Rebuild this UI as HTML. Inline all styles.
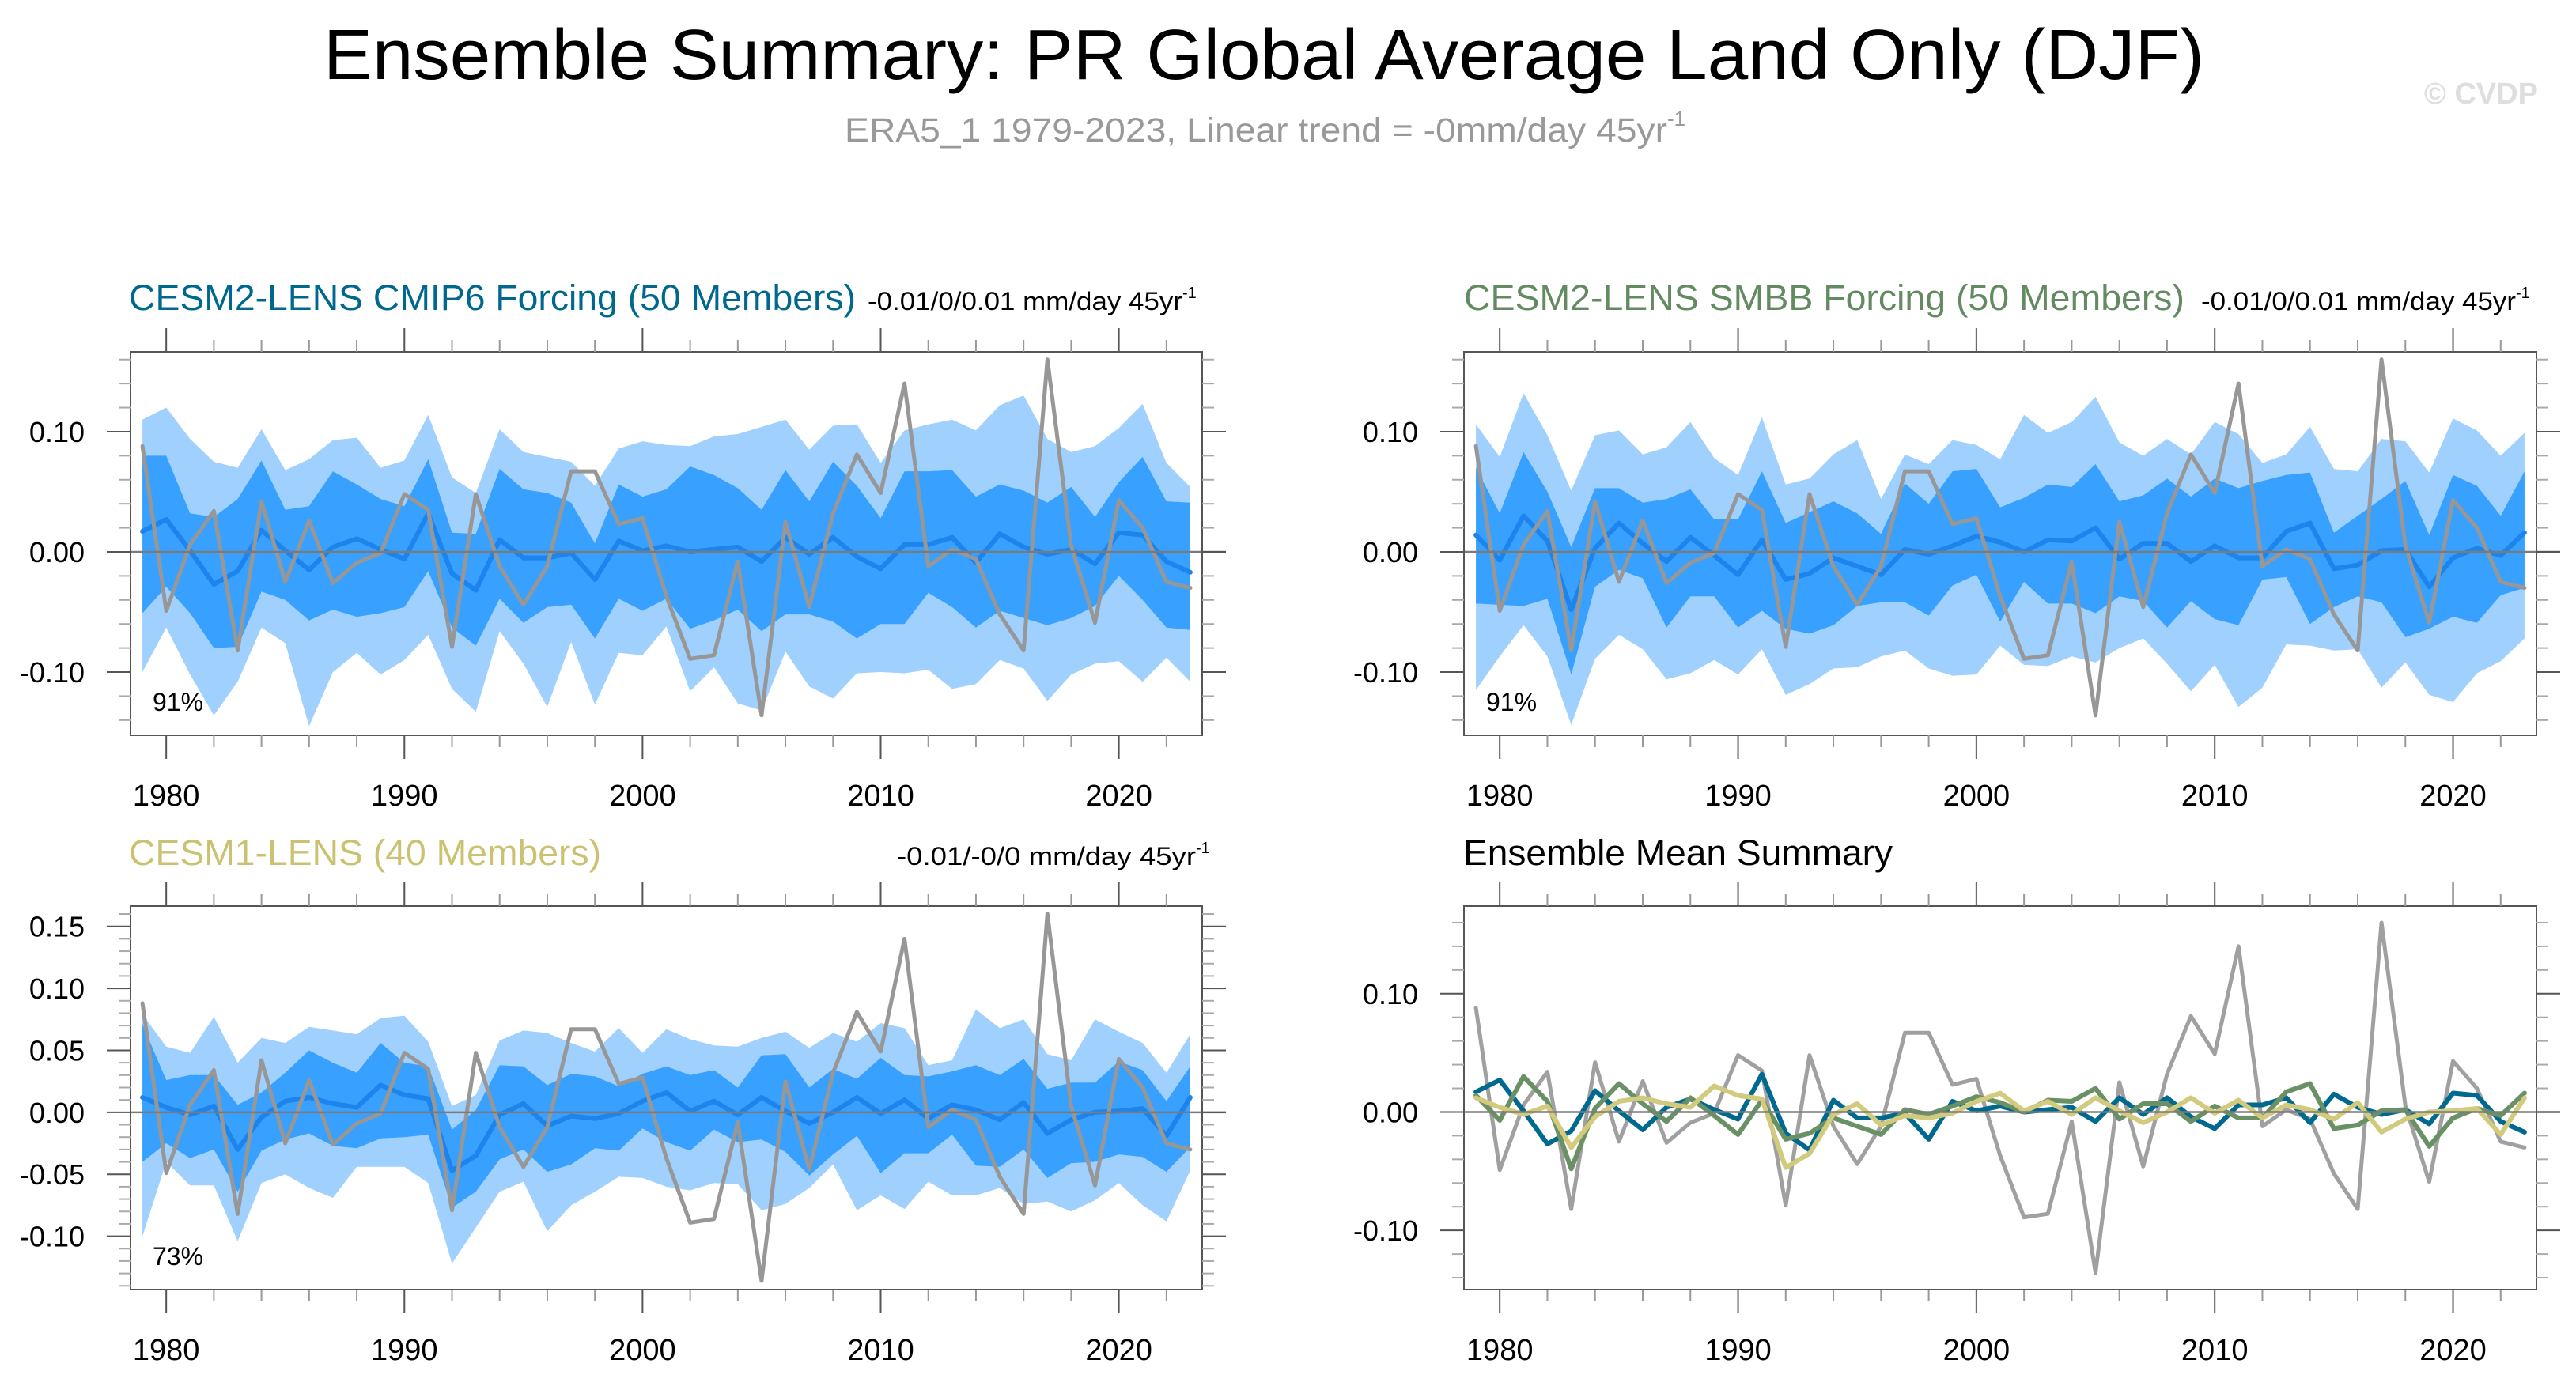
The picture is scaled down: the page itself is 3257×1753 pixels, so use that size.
<!DOCTYPE html>
<html><head><meta charset="utf-8">
<style>
html,body{margin:0;padding:0;background:#fff;}
svg{display:block;font-family:"Liberation Sans",Arial,sans-serif;}
</style></head>
<body>
<svg id="chart" width="3257" height="1753" viewBox="0 0 3257 1753" xmlns="http://www.w3.org/2000/svg">
<text x="1598" y="100" font-size="90" text-anchor="middle" textLength="2378" lengthAdjust="spacingAndGlyphs" fill="#000">Ensemble Summary: PR Global Average Land Only (DJF)</text>
<text x="1068" y="179" font-size="43" fill="#999"><tspan textLength="1040" lengthAdjust="spacingAndGlyphs">ERA5_1 1979-2023, Linear trend = -0mm/day 45yr</tspan><tspan font-size="26" dy="-20">-1</tspan></text>
<text x="3209" y="131" font-size="38" font-weight="bold" text-anchor="end" fill="#dedede">© CVDP</text>

<text x="163" y="392" font-size="45" fill="#00688f" textLength="919" lengthAdjust="spacingAndGlyphs">CESM2-LENS CMIP6 Forcing (50 Members)</text>
<text x="1097" y="392" font-size="32" fill="#000"><tspan textLength="398" lengthAdjust="spacingAndGlyphs">-0.01/0/0.01 mm/day 45yr</tspan><tspan font-size="20" dy="-15">-1</tspan></text>

<text x="1851" y="392" font-size="45" fill="#638a60" textLength="911" lengthAdjust="spacingAndGlyphs">CESM2-LENS SMBB Forcing (50 Members)</text>
<text x="2783" y="392" font-size="32" fill="#000"><tspan textLength="398" lengthAdjust="spacingAndGlyphs">-0.01/0/0.01 mm/day 45yr</tspan><tspan font-size="20" dy="-15">-1</tspan></text>

<text x="163" y="1094" font-size="45" fill="#cbc271" textLength="597" lengthAdjust="spacingAndGlyphs">CESM1-LENS (40 Members)</text>
<text x="1134" y="1094" font-size="32" fill="#000"><tspan textLength="378" lengthAdjust="spacingAndGlyphs">-0.01/-0/0 mm/day 45yr</tspan><tspan font-size="20" dy="-15">-1</tspan></text>

<text x="1850" y="1094" font-size="45" fill="#000" textLength="543" lengthAdjust="spacingAndGlyphs">Ensemble Mean Summary</text>
</svg>
<script>
const years = [];
for (let y = 1979; y <= 2023; y++) years.push(y);

const era5 = [0.088,-0.049,0.006,0.034,-0.082,0.042,-0.025,0.026,-0.026,-0.009,-0.001,0.048,0.035,-0.079,0.048,-0.012,-0.044,-0.012,0.067,0.067,0.023,0.028,-0.037,-0.089,-0.086,-0.008,-0.136,0.025,-0.046,0.032,0.081,0.049,0.140,-0.012,0.002,-0.006,-0.052,-0.082,0.160,0.005,-0.059,0.043,0.020,-0.025,-0.030];

const cmip6Mean = [0.017,0.027,0.001,-0.027,-0.016,0.018,0.001,-0.015,0.004,0.011,0.002,-0.006,0.032,-0.018,-0.032,0.010,-0.005,-0.005,-0.001,-0.023,0.009,0.001,0.005,0.000,0.002,0.004,-0.008,0.012,-0.002,0.012,-0.004,-0.014,0.006,0.006,0.012,-0.009,0.015,0.004,-0.002,0.002,-0.010,0.016,0.014,-0.008,-0.017];
const cmip6OuterHi = [0.110,0.120,0.094,0.075,0.070,0.102,0.068,0.077,0.093,0.095,0.070,0.076,0.114,0.062,0.049,0.102,0.083,0.079,0.075,0.055,0.086,0.092,0.089,0.088,0.096,0.098,0.104,0.110,0.085,0.105,0.106,0.074,0.101,0.106,0.110,0.101,0.122,0.130,0.094,0.083,0.088,0.103,0.123,0.074,0.054];
const cmip6InnerHi = [0.080,0.080,0.032,0.029,0.044,0.076,0.035,0.038,0.067,0.056,0.044,0.038,0.077,0.016,0.015,0.069,0.052,0.049,0.041,0.007,0.056,0.046,0.052,0.071,0.064,0.053,0.035,0.068,0.042,0.075,0.055,0.028,0.067,0.067,0.068,0.046,0.056,0.051,0.041,0.054,0.029,0.058,0.079,0.042,0.041];
const cmip6InnerLo = [-0.051,-0.029,-0.051,-0.080,-0.079,-0.033,-0.040,-0.057,-0.048,-0.054,-0.051,-0.046,-0.016,-0.063,-0.078,-0.039,-0.059,-0.046,-0.044,-0.072,-0.039,-0.049,-0.039,-0.064,-0.057,-0.048,-0.066,-0.052,-0.052,-0.058,-0.072,-0.060,-0.060,-0.034,-0.046,-0.063,-0.049,-0.055,-0.061,-0.055,-0.045,-0.020,-0.040,-0.063,-0.065];
const cmip6OuterLo = [-0.100,-0.063,-0.102,-0.136,-0.108,-0.063,-0.076,-0.145,-0.100,-0.084,-0.102,-0.090,-0.069,-0.114,-0.133,-0.066,-0.093,-0.129,-0.075,-0.127,-0.084,-0.086,-0.062,-0.116,-0.096,-0.126,-0.132,-0.083,-0.112,-0.122,-0.101,-0.100,-0.101,-0.098,-0.114,-0.110,-0.090,-0.097,-0.124,-0.102,-0.093,-0.091,-0.108,-0.088,-0.108];

const smbbMean = [0.014,-0.007,0.030,0.009,-0.048,0.003,0.024,0.007,-0.008,0.012,-0.003,-0.019,0.010,-0.023,-0.018,-0.005,-0.012,-0.019,0.002,-0.002,0.005,0.013,0.008,0.000,0.010,0.009,0.020,-0.006,0.007,0.007,-0.008,0.005,-0.005,-0.005,0.017,0.024,-0.014,-0.011,0.001,0.002,-0.029,-0.005,0.003,-0.003,0.016];
const smbbOuterHi = [0.106,0.079,0.132,0.097,0.051,0.097,0.101,0.081,0.087,0.108,0.078,0.064,0.112,0.056,0.061,0.081,0.093,0.044,0.081,0.073,0.093,0.089,0.077,0.114,0.099,0.108,0.129,0.091,0.080,0.094,0.081,0.108,0.098,0.074,0.081,0.104,0.069,0.067,0.094,0.092,0.066,0.111,0.101,0.080,0.099];
const smbbInnerHi = [0.070,0.032,0.083,0.050,0.004,0.053,0.053,0.041,0.044,0.052,0.027,0.027,0.067,0.024,0.033,0.042,0.032,0.015,0.057,0.040,0.067,0.069,0.037,0.045,0.056,0.054,0.073,0.042,0.047,0.061,0.046,0.061,0.053,0.059,0.064,0.066,0.016,0.030,0.044,0.059,0.014,0.064,0.055,0.030,0.067];
const smbbInnerLo = [-0.043,-0.044,-0.045,-0.039,-0.102,-0.029,-0.015,-0.022,-0.063,-0.037,-0.037,-0.063,-0.049,-0.064,-0.068,-0.061,-0.045,-0.042,-0.042,-0.053,-0.028,-0.019,-0.058,-0.025,-0.043,-0.043,-0.051,-0.037,-0.041,-0.063,-0.041,-0.056,-0.061,-0.023,-0.021,-0.060,-0.046,-0.037,-0.042,-0.071,-0.064,-0.054,-0.059,-0.036,-0.030];
const smbbOuterLo = [-0.115,-0.087,-0.061,-0.087,-0.144,-0.089,-0.069,-0.081,-0.106,-0.101,-0.090,-0.102,-0.081,-0.119,-0.110,-0.097,-0.096,-0.087,-0.082,-0.097,-0.103,-0.102,-0.078,-0.094,-0.095,-0.087,-0.092,-0.080,-0.072,-0.093,-0.116,-0.094,-0.129,-0.113,-0.077,-0.078,-0.082,-0.081,-0.113,-0.092,-0.119,-0.125,-0.101,-0.091,-0.072];

const cesm1Mean = [0.012,0.004,-0.002,0.005,-0.030,-0.004,0.009,0.012,0.007,0.004,0.022,0.014,0.011,-0.047,-0.035,-0.002,0.007,-0.011,-0.003,-0.005,-0.001,0.009,0.016,0.001,0.009,-0.002,0.012,0.001,-0.009,0.000,0.012,-0.001,0.010,-0.005,0.006,0.002,-0.006,0.008,-0.017,-0.006,0.000,0.001,0.003,-0.019,0.012];
const cesm1OuterHi = [0.079,0.053,0.048,0.077,0.040,0.060,0.056,0.069,0.066,0.063,0.076,0.078,0.057,0.005,0.014,0.058,0.066,0.064,0.056,0.049,0.068,0.048,0.067,0.059,0.054,0.053,0.060,0.065,0.052,0.064,0.057,0.072,0.068,0.038,0.042,0.083,0.068,0.075,0.047,0.042,0.075,0.065,0.056,0.032,0.063];
const cesm1InnerHi = [0.071,0.026,0.030,0.030,0.006,0.016,0.032,0.050,0.040,0.032,0.056,0.040,0.037,-0.014,0.002,0.038,0.037,0.022,0.031,0.029,0.021,0.031,0.037,0.030,0.034,0.020,0.046,0.047,0.020,0.035,0.027,0.044,0.030,0.029,0.033,0.038,0.030,0.043,0.019,0.024,0.024,0.041,0.034,0.009,0.037];
const cesm1InnerLo = [-0.040,-0.025,-0.037,-0.030,-0.064,-0.031,-0.022,-0.017,-0.027,-0.029,-0.021,-0.020,-0.018,-0.077,-0.064,-0.038,-0.030,-0.048,-0.042,-0.029,-0.031,-0.013,-0.024,-0.031,-0.014,-0.024,-0.022,-0.032,-0.051,-0.034,-0.019,-0.049,-0.033,-0.033,-0.018,-0.043,-0.044,-0.030,-0.053,-0.041,-0.040,-0.034,-0.036,-0.048,-0.028];
const cesm1OuterLo = [-0.100,-0.040,-0.059,-0.059,-0.104,-0.057,-0.050,-0.061,-0.069,-0.044,-0.044,-0.044,-0.057,-0.122,-0.093,-0.064,-0.056,-0.096,-0.075,-0.064,-0.052,-0.053,-0.060,-0.063,-0.057,-0.058,-0.079,-0.074,-0.061,-0.042,-0.079,-0.067,-0.078,-0.056,-0.067,-0.067,-0.061,-0.074,-0.072,-0.080,-0.071,-0.057,-0.075,-0.088,-0.047];

const yTicks12 = [-0.10, 0.00, 0.10];
const yTickLabels12 = ["-0.10", "0.00", "0.10"];
const yTicks3 = [-0.10, -0.05, 0.00, 0.05, 0.10, 0.15];
const yTickLabels3 = ["-0.10", "-0.05", "0.00", "0.05", "0.10", "0.15"];
const xTicks = [1980, 1990, 2000, 2010, 2020];
const xTickLabels = ["1980", "1990", "2000", "2010", "2020"];

const NS = "http://www.w3.org/2000/svg";
const svg = document.getElementById("chart");
function mk(tag, attrs, parent) {
  const e = document.createElementNS(NS, tag);
  for (const k in attrs) e.setAttribute(k, attrs[k]);
  (parent || svg).appendChild(e);
  return e;
}

function panel(p) {
  const g = mk("g", {});
  
  
  const xS = v => p.x0 + (v - 1978.5) / 45 * (p.x1 - p.x0);
  const yS = v => p.y1 - (v - p.vmin) / (p.vmax - p.vmin) * (p.y1 - p.y0);
  const clipId = "clip-" + p.name;
  const cp = mk("clipPath", {id: clipId}, g);
  mk("rect", {x: p.x0, y: p.y0, width: p.x1 - p.x0, height: p.y1 - p.y0}, cp);
  const inner = mk("g", {"clip-path": "url(#" + clipId + ")"}, g);

  function band(hi, lo, fill, nm) {
    let d = "";
    years.forEach((yr, i) => { d += (i ? "L" : "M") + xS(yr).toFixed(1) + "," + yS(hi[i]).toFixed(1); });
    for (let i = years.length - 1; i >= 0; i--) d += "L" + xS(years[i]).toFixed(1) + "," + yS(lo[i]).toFixed(1);
    const e = mk("path", {d: d + "Z", fill: fill}, inner);
    
    
  }
  function line(vals, color, w, nm) {
    const pts = years.map((yr, i) => xS(yr).toFixed(1) + "," + yS(vals[i]).toFixed(1)).join(" ");
    const e = mk("polyline", {points: pts, fill: "none", stroke: color, "stroke-width": w, "stroke-linejoin": "round", "stroke-linecap": "round"}, inner);
    
    
  }
  if (p.bands) {
    band(p.bands[0], p.bands[3], "#a0d0fe", "outer-spread-band");
    band(p.bands[1], p.bands[2], "#38a0ff", "inner-spread-band");
  }
  const z = mk("line", {x1: p.x0, x2: p.x1 + 30, y1: yS(0), y2: yS(0), stroke: "#7a7a7a", "stroke-width": 2.5}, g);
  
  
  if (p.lines) p.lines.forEach(l => line(l.v, l.c, l.w, l.n));

  const fr = mk("rect", {x: p.x0, y: p.y0, width: p.x1 - p.x0, height: p.y1 - p.y0, fill: "none", stroke: "#555", "stroke-width": 2}, g);
  
  
  for (let yr = 1980; yr <= 2022; yr += 2) {
    const maj = yr % 10 === 0, L = maj ? 30 : 15, X = xS(yr);
    mk("line", {x1: X, x2: X, y1: p.y0, y2: p.y0 - L, stroke: maj ? "#555" : "#999", "stroke-width": 2}, g);
    mk("line", {x1: X, x2: X, y1: p.y1, y2: p.y1 + L, stroke: maj ? "#555" : "#999", "stroke-width": 2}, g);
  }
  xTicks.forEach((t, i) => {
    const e = mk("text", {x: xS(t), y: p.y1 + 89, "font-size": 38, "text-anchor": "middle", fill: "#000"}, g);
    e.textContent = xTickLabels[i];
    
    
  });
  const step = p.minor;
  for (let v = Math.ceil(p.vmin / step) * step; v <= p.vmax + 1e-9; v += step) {
    const maj = p.yt.some(t => Math.abs(t - v) < 1e-6), L = maj ? 30 : 15, Y = yS(v);
    mk("line", {x1: p.x0, x2: p.x0 - L, y1: Y, y2: Y, stroke: maj ? "#555" : "#aaa", "stroke-width": 2}, g);
    mk("line", {x1: p.x1, x2: p.x1 + L, y1: Y, y2: Y, stroke: maj ? "#555" : "#aaa", "stroke-width": 2}, g);
  }
  p.yt.forEach((t, i) => {
    const e = mk("text", {x: p.x0 - 58, y: yS(t) + 13, "font-size": 36, "text-anchor": "end", fill: "#000"}, g);
    e.textContent = p.ytl[i];
    
    
  });
  if (p.pct) {
    const e = mk("text", {x: p.x0 + 28, y: p.y1 - 31, "font-size": 32, fill: "#000"}, g);
    e.textContent = p.pct;
    
    
  }
}

panel({name: "panel-cesm2-cmip6", x0: 165, x1: 1520, y0: 445, y1: 930, vmin: -0.1526, vmax: 0.1664, minor: 0.02, yt: yTicks12, ytl: yTickLabels12, pct: "91%",
  bands: [cmip6OuterHi, cmip6InnerHi, cmip6InnerLo, cmip6OuterLo],
  lines: [{v: cmip6Mean, c: "#1c84ec", w: 6, n: "ensemble-mean-line"}, {v: era5, c: "#979797", w: 5, n: "era5-line"}]});
panel({name: "panel-cesm2-smbb", x0: 1851, x1: 3207, y0: 445, y1: 930, vmin: -0.1526, vmax: 0.1664, minor: 0.02, yt: yTicks12, ytl: yTickLabels12, pct: "91%",
  bands: [smbbOuterHi, smbbInnerHi, smbbInnerLo, smbbOuterLo],
  lines: [{v: smbbMean, c: "#1c84ec", w: 6, n: "ensemble-mean-line"}, {v: era5, c: "#979797", w: 5, n: "era5-line"}]});
panel({name: "panel-cesm1", x0: 165, x1: 1520, y0: 1146, y1: 1631, vmin: -0.143, vmax: 0.1664, minor: 0.01, yt: yTicks3, ytl: yTickLabels3, pct: "73%",
  bands: [cesm1OuterHi, cesm1InnerHi, cesm1InnerLo, cesm1OuterLo],
  lines: [{v: cesm1Mean, c: "#1c84ec", w: 6, n: "ensemble-mean-line"}, {v: era5, c: "#979797", w: 5, n: "era5-line"}]});
panel({name: "panel-mean-summary", x0: 1851, x1: 3207, y0: 1146, y1: 1631, vmin: -0.150, vmax: 0.174, minor: 0.02, yt: yTicks12, ytl: yTickLabels12,
  lines: [{v: era5, c: "#a0a0a0", w: 5, n: "era5-line"},
          {v: cmip6Mean, c: "#00698f", w: 6, n: "cmip6-mean-line"},
          {v: smbbMean, c: "#6a9066", w: 6, n: "smbb-mean-line"},
          {v: cesm1Mean, c: "#d2ca7c", w: 6, n: "cesm1-mean-line"}]});
</script>
</body></html>
